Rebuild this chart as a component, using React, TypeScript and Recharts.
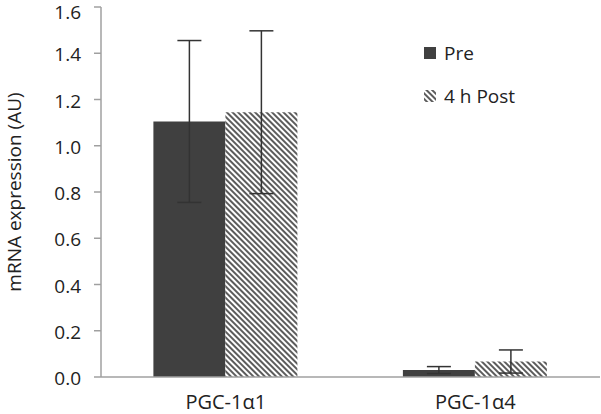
import React from 'react';
import { BarChart, Bar, XAxis, YAxis, ErrorBar } from 'recharts';

const categories = ['PGC-1α1', 'PGC-1α4'];
const preValues = [1.105, 0.03];
const preErrors = [0.35, 0.015];
const postValues = [1.145, 0.067];
const postErrors = [0.352, 0.05];
const yTicks = [0, 0.2, 0.4, 0.6, 0.8, 1.0, 1.2, 1.4, 1.6];
const seriesNames = ['Pre', '4 h Post'];

const data = categories.map((c, i) => ({
  name: c,
  pre: preValues[i],
  preErr: preErrors[i],
  post: postValues[i],
  postErr: postErrors[i],
}));

const FONT = '"Open Sans", sans-serif';
const DARK = '#404040';
const FS = 19;

export default function App() {
  return (
    <div style={{ position: 'absolute', left: 0, top: 0, width: 601, height: 414, background: '#fff' }}>
      <BarChart
        width={601}
        height={414}
        data={data}
        margin={{ top: 7, right: 1, left: 0, bottom: 0 }}
        barCategoryGap="21%"
        barGap={0}
      >
        <defs>
          <pattern id="hatch" patternUnits="userSpaceOnUse" width={4} height={4} patternTransform="rotate(-45)">
            <rect x={0} y={0} width={4} height={4} fill="#fff" />
            <line x1={1} y1={0} x2={1} y2={4} stroke="#333" strokeWidth={1.6} />
          </pattern>
        </defs>
        <XAxis
          dataKey="name"
          height={37}
          tickLine={false}
          tickMargin={12}
          stroke="#a0a0a0"
          strokeWidth={1.5}
          tick={{ fill: '#222', fontSize: 20, fontFamily: FONT }}
        />
        <YAxis
          width={101}
          domain={[0, 1.6]}
          ticks={yTicks}
          tickFormatter={(v: number) => v.toFixed(1)}
          tickSize={7}
          tickMargin={13}
          stroke="#a0a0a0"
          strokeWidth={1.5}
          tick={{ fill: '#222', fontSize: FS, fontFamily: FONT, dy: 1.5 }}
          label={{
            value: 'mRNA expression (AU)',
            angle: -90,
            position: 'insideLeft',
            offset: 14,
            style: { textAnchor: 'middle', fill: '#222', fontSize: FS, fontFamily: FONT },
          }}
        />
        <Bar dataKey="pre" name={seriesNames[0]} fill={DARK} isAnimationActive={false}>
          <ErrorBar dataKey="preErr" width={12} stroke="#333" strokeWidth={1.5} />
        </Bar>
        <Bar dataKey="post" name={seriesNames[1]} fill="url(#hatch)" isAnimationActive={false}>
          <ErrorBar dataKey="postErr" width={12} stroke="#333" strokeWidth={1.5} />
        </Bar>
      </BarChart>
      <div style={{ position: 'absolute', left: 424, top: 40, fontFamily: FONT, fontSize: FS, color: '#222' }}>
        <div style={{ display: 'flex', alignItems: 'center', height: 26 }}>
          <svg width={14} height={14} style={{ marginRight: 6 }}>
            <rect x={0} y={1} width={12} height={12} fill={DARK} />
          </svg>
          <span>{seriesNames[0]}</span>
        </div>
        <div style={{ display: 'flex', alignItems: 'center', height: 26, marginTop: 17 }}>
          <svg width={14} height={14} style={{ marginRight: 6 }}>
            <rect x={0} y={1} width={12} height={12} fill="url(#hatch)" />
          </svg>
          <span>{seriesNames[1]}</span>
        </div>
      </div>
    </div>
  );
}
